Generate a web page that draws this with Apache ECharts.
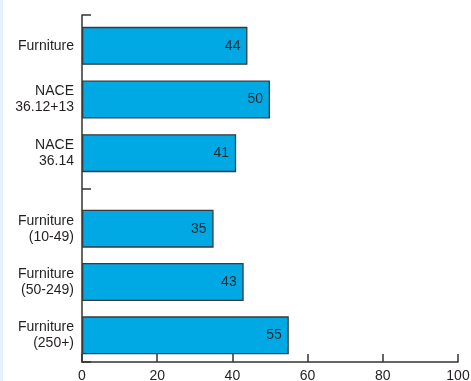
<!DOCTYPE html>
<html>
<head>
<meta charset="utf-8">
<script src="https://cdn.jsdelivr.net/npm/echarts@6/dist/echarts.min.js"></script>
<style>
  html, body { margin: 0; padding: 0; background: #fff; }
  #chart { width: 471px; height: 381px; box-sizing: border-box; border-left: 3px solid #e4f2fb; }
</style>
</head>
<body>
<div id="chart"></div>
<script>
// Top group: sector totals
const topCategories = ['Furniture', 'NACE\n36.12+13', 'NACE\n36.14'];
const topValues = [44, 50, 41];

// Bottom group: by firm size
const bottomCategories = ['Furniture\n(10-49)', 'Furniture\n(50-249)', 'Furniture\n(250+)'];
const bottomValues = [35, 43, 55];

const xMin = 0;
const xMax = 100;
const xStep = 20;

const FONT = 'Liberation Sans';
const AXIS_COLOR = '#333';
const BAR_COLOR = '#00a9e4';
const TEXT_COLOR = '#231f20';

const chart = echarts.init(document.getElementById('chart'));

const catLabel = {
  fontFamily: FONT,
  fontSize: 14,
  color: TEXT_COLOR,
  lineHeight: 16,
  margin: 8,
  align: 'right'
};

function barSeries(values, idx) {
  return {
    type: 'bar',
    xAxisIndex: idx,
    yAxisIndex: idx,
    data: values,
    barWidth: 38,
    itemStyle: { color: BAR_COLOR, borderColor: '#3a3a3a', borderWidth: 1.3 },
    label: {
      show: true,
      position: 'insideRight',
      distance: 7,
      fontFamily: FONT,
      fontSize: 14,
      color: '#1d2b36'
    },
    silent: true
  };
}

const hiddenX = {
  type: 'value', min: xMin, max: xMax, interval: xStep,
  show: false
};

// labels at the bottom are clipped by the frame in the original, so no auto-fit
const gridBase = { left: 79, right: 13, outerBoundsMode: 'none', containLabel: false };

chart.setOption({
  animation: false,
  grid: [
    Object.assign({ top: 19, height: 161 }, gridBase),
    Object.assign({ top: 202, height: 160 }, gridBase),
    Object.assign({ top: 15, height: 347 }, gridBase)
  ],
  xAxis: [
    Object.assign({ gridIndex: 0 }, hiddenX),
    {
      gridIndex: 1,
      type: 'value', min: xMin, max: xMax, interval: xStep,
      axisLine: { show: true, lineStyle: { color: AXIS_COLOR, width: 1.5 } },
      axisTick: { show: true, inside: true, length: 8, lineStyle: { color: AXIS_COLOR, width: 1.5 } },
      axisLabel: { fontFamily: FONT, fontSize: 14, color: TEXT_COLOR, margin: 7 },
      splitLine: { show: false }
    },
    Object.assign({ gridIndex: 2 }, hiddenX)
  ],
  yAxis: [
    {
      gridIndex: 0, type: 'category', inverse: true, data: topCategories,
      axisLine: { show: false }, axisTick: { show: false }, axisLabel: catLabel
    },
    {
      gridIndex: 1, type: 'category', inverse: true, data: bottomCategories,
      axisLine: { show: false }, axisTick: { show: false }, axisLabel: catLabel
    },
    {
      // continuous left axis with group separator tick
      gridIndex: 2, type: 'category', data: ['', ''],
      axisLine: { show: true, lineStyle: { color: AXIS_COLOR, width: 1.5 } },
      axisTick: { show: true, inside: true, length: 9, lineStyle: { color: AXIS_COLOR, width: 1.5 } },
      axisLabel: { show: false }
    }
  ],
  series: [
    barSeries(topValues, 0),
    barSeries(bottomValues, 1)
  ]
});
</script>
</body>
</html>
